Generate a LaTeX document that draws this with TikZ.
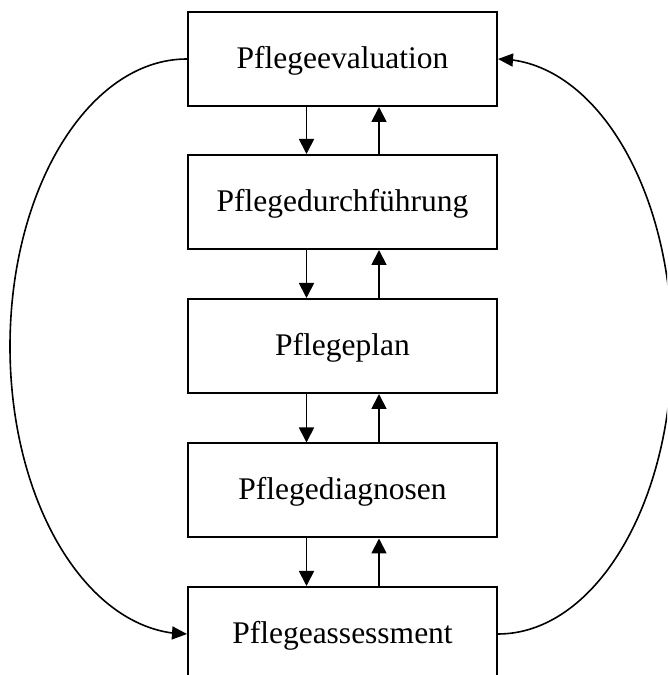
\documentclass[tikz,border=0pt]{standalone}
\usepackage{fontspec}
\setmainfont{Liberation Serif}
\usetikzlibrary{arrows.meta,bending}

\tikzset{
  stagebox/.style={draw, line width=2pt, minimum width=309pt, minimum height=94pt,
    inner sep=0pt, text height=23.5pt, text depth=5pt,
    font=\fontsize{31.5}{36}\selectfont},
  flow/.style={line width=1.8pt, -{Triangle[length=15pt,width=15pt]}},
  loop/.style={line width=1.6pt, -{Triangle[length=15pt,width=13pt]}}
}

\begin{document}
\begin{tikzpicture}[x=1pt,y=1pt]
  \useasboundingbox (0,0) rectangle (667,675);
  \clip (0,0) rectangle (667,675);

  % the five stages of the nursing process, top to bottom
  \node[stagebox] (eval)   at (342.5,616)   {Pflegeevaluation};
  \node[stagebox] (durch)  at (342.5,473)   {Pflegedurchführung};
  \node[stagebox] (plan)   at (342.5,329)   {Pflegeplan};
  \node[stagebox] (diag)   at (342.5,184.5) {Pflegediagnosen};
  \node[stagebox] (assess) at (342.5,41)    {Pflegeassessment};

  % downward and upward links between neighbouring stages
  \foreach \u/\l in {eval/durch, durch/plan, plan/diag, diag/assess} {
    \draw[flow] ([xshift=-36pt]\u.south) -- ([xshift=-36pt]\l.north);
    \draw[flow] ([xshift=36.5pt]\l.north) -- ([xshift=36.5pt]\u.south);
  }

  % outer loops: evaluation back to assessment, assessment up to evaluation
  \draw[loop] (eval.west) arc[start angle=90, end angle=270, x radius=177pt, y radius=287.5pt];
  \draw[loop] (assess.east) arc[start angle=-90, end angle=90, x radius=174pt, y radius=287.5pt];
\end{tikzpicture}
\end{document}
